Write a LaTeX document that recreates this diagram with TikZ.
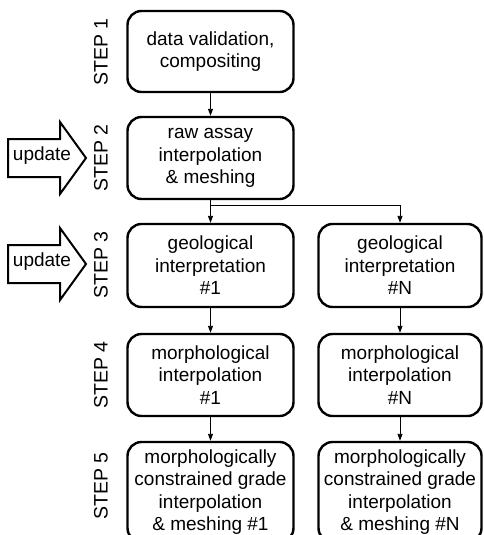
\documentclass[tikz,border=0pt]{standalone}
\usepackage{fontspec}
\setmainfont{Liberation Sans}
\usetikzlibrary{arrows.meta}
\begin{document}
\begin{tikzpicture}[x=1pt,y=-1pt,
  stepbox/.style={draw,line width=2.4pt,rounded corners=14pt,align=center,font=\fontsize{19}{22.5}\selectfont,inner sep=0pt},
  lbox/.style={stepbox,minimum width=166pt},
  rbox/.style={stepbox,minimum width=163pt},
  steplabel/.style={rotate=90,font=\fontsize{19.5}{22}\selectfont},
  conn/.style={line width=0.9pt,-{Triangle[length=7pt,width=5pt]}},
  upd/.style={draw,line width=2pt,fill=white,line join=miter}
]
\useasboundingbox (0,0) rectangle (484,535);
\clip (0,0) rectangle (484,535);
% boxes
\node[lbox,minimum height=81pt] (b1) at (210.5,51.5) {data validation,\\compositing};
\node[lbox,minimum height=82pt] (b2) at (210.5,158) {raw assay\\interpolation\\\& meshing};
\node[lbox,minimum height=83pt] (b3l) at (210.5,265.5) {geological\\interpretation\\\#1};
\node[rbox,minimum height=83pt] (b3r) at (400,265.5) {geological\\interpretation\\\#N};
\node[lbox,minimum height=82pt] (b4l) at (210.5,375) {morphological\\interpolation\\\#1};
\node[rbox,minimum height=82pt] (b4r) at (400,375) {morphological\\interpolation\\\#N};
\node[lbox,minimum height=100pt] (b5l) at (210.5,492) {morphologically\\constrained grade\\interpolation\\\& meshing \#1};
\node[rbox,minimum height=100pt] (b5r) at (400,492) {morphologically\\constrained grade\\interpolation\\\& meshing \#N};
% step labels
\node[steplabel] (s1) at (101,52) {STEP 1};
\node[steplabel] (s2) at (101,158) {STEP 2};
\node[steplabel] (s3) at (101,265) {STEP 3};
\node[steplabel] (s4) at (101,375) {STEP 4};
\node[steplabel] (s5) at (101,486) {STEP 5};
% connectors
\draw[conn] (b1.south) -- (b2.north);
\coordinate (split) at (210.5,205);
\draw[line width=0.9pt] (b2.south) -- (split);
\draw[conn] (split) -- (b3l.north);
\draw[conn] (split) -| (b3r.north);
\draw[conn] (b3l.south) -- (b4l.north);
\draw[conn] (b3r.south) -- (b4r.north);
\draw[conn] (b4l.south) -- (b5l.north);
\draw[conn] (b4r.south) -- (b5r.north);
% update arrows
\draw[upd] (8,139) -- (60,139) -- (60,122) -- (86,158) -- (60,194) -- (60,177) -- (8,177) -- cycle;
\node[font=\fontsize{19}{22}\selectfont] (u1) at (42,156) {update};
\draw[upd] (8,245) -- (60,245) -- (60,228) -- (86,264) -- (60,300) -- (60,283) -- (8,283) -- cycle;
\node[font=\fontsize{19}{22}\selectfont] (u2) at (42,262) {update};
\end{tikzpicture}
\end{document}
